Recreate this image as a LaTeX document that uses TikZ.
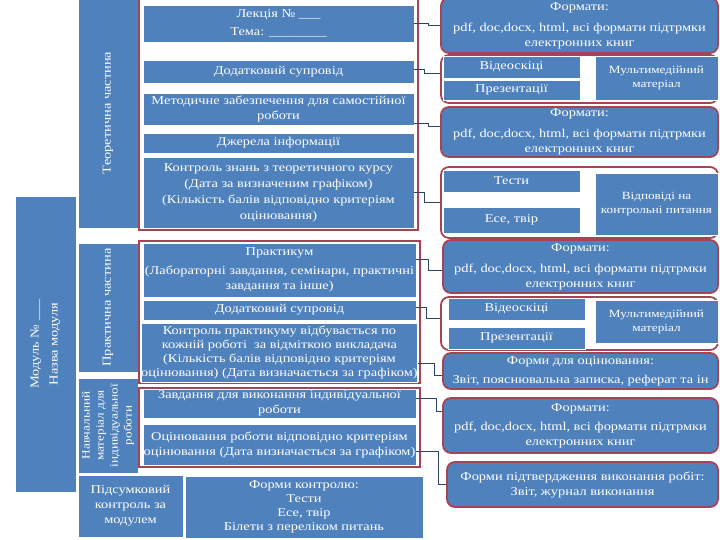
\documentclass[tikz,border=0pt]{standalone}
\usepackage{fontspec}
\setmainfont{Liberation Serif}[FakeStretch=1.2]
\usetikzlibrary{positioning,calc}

\definecolor{boxblue}{RGB}{79,129,189}
\definecolor{frameRed}{RGB}{165,68,84}
\definecolor{lineDark}{RGB}{45,68,98}

\begin{document}
\begin{tikzpicture}[x=1pt,y=-1pt]

        % blue blocks, red frames and the thin elbow connectors
        \tikzset{
            blk/.style={fill=boxblue, draw=white, line width=0.8pt, text=white,
                align=center, inner sep=0pt,
                font=\fontsize{12}{15}\selectfont},
            sblk/.style={blk, font=\fontsize{11}{14}\selectfont},
            rblk/.style={blk, draw=frameRed, line width=1.8pt, rounded corners=8pt},
            grp/.style={fill=white, draw=frameRed, line width=1.8pt, rounded corners=8pt,
                inner sep=0pt},
            frm/.style={draw=frameRed, line width=1.6pt, fill=white},
            conn/.style={draw=lineDark, line width=0.6pt}
        }

        \useasboundingbox (0,0) rectangle (720,540);

        % Left column
        \begin{scope}
            \node[blk, rotate=90, minimum width=296, minimum height=61] (mod) at (45.5,344)
            {Модуль № \_\_\_\\[4pt]Назва модуля};
            \node[blk, rotate=90, minimum width=230, minimum height=60] (teor) at (108,113)
            {Теоретична частина};
            \node[blk, rotate=90, minimum width=129, minimum height=60] (prak) at (108,307.5)
            {Практична частина};
            \node[blk, rotate=90, minimum width=95, minimum height=60,
                font=\fontsize{11}{14}\selectfont] (navch) at (108,425.5)
            {Навчальний\\матеріал для\\індивідуальної\\роботи};
            \node[blk, minimum width=105, minimum height=62] (pidsum) at (130.5,506)
            {Підсумковий\\контроль за\\модулем};
            \node[blk, minimum width=238, minimum height=62,
                font=\fontsize{12}{14}\selectfont] (formy) at (304,507)
            {Форми контролю:\\Тести\\Есе, твір\\Білети з переліком питань};
        \end{scope}

        % Middle column
        \draw[frm] (139,-2) rectangle (418,230);
        \draw[frm] (139,241) rectangle (420,383);
        \draw[frm] (139,388) rectangle (420,467);
        \begin{scope}[every node/.append style={minimum width=271}]
            \node[blk, minimum height=37] (lek) at (278.5,23.5)
            {Лекція № \_\_\_\\[3pt]Тема: \_\_\_\_\_\_\_\_};
            \node[blk, minimum height=23] (dod1) at (278.5,71.5)
            {Додатковий супровід};
            \node[blk, minimum height=32] (metod) at (278.5,109)
            {Методичне забезпечення для самостійної\\роботи};
            \node[blk, minimum height=20] (dzher) at (278.5,143)
            {Джерела інформації};
            \node[blk, minimum height=71, font=\fontsize{12}{16}\selectfont] (kontr) at (278.5,192.5)
            {Контроль знань з теоретичного курсу\\(Дата за визначеним графіком)\\
             (Кількість балів відповідно критеріям\\оцінювання)};
        \end{scope}
        \begin{scope}[every node/.append style={minimum width=273}]
            \node[blk, minimum height=54] (prakt) at (279.5,270)
            {Практикум\\[4pt](Лабораторні завдання, семінари, практичні\\завдання та інше)};
            \node[blk, minimum height=20] (dod2) at (279.5,310)
            {Додатковий супровід};
            \node[blk, minimum height=59, font=\fontsize{12}{14.2}\selectfont] (kprakt) at (279.5,352.5)
            {Контроль практикуму відбувається по\\кожній роботі \ за відміткою викладача\\
             (Кількість балів відповідно критеріям\\оцінювання) (Дата визначається за графіком)};
            \node[blk, minimum height=29] (zavd) at (279.5,403.5)
            {Завдання для виконання індивідуальної\\роботи};
            \node[blk, minimum height=41] (ocin) at (279.5,444.5)
            {Оцінювання роботи відповідно критеріям\\оцінювання (Дата визначається за графіком)};
        \end{scope}

        % Right column
        \node[rblk, minimum width=277, minimum height=55] (f1) at (579.5,25.5)
        {Формати:\\[6pt]pdf, doc,docx, html, всі формати підтрмки\\електронних книг};
        \node[grp, minimum width=277, minimum height=48] (g2) at (579.5,79) {};
        \node[blk, minimum width=137, minimum height=22] (vid1) at (511.5,67) {Відеоскіці};
        \node[blk, minimum width=137, minimum height=20] (prez1) at (511.5,90) {Презентації};
        \node[sblk, minimum width=123, minimum height=44] (mult1) at (656.5,78)
        {Мультимедійний\\матеріал};
        \node[rblk, minimum width=277, minimum height=50] (f2) at (579.5,132)
        {Формати:\\[6pt]pdf, doc,docx, html, всі формати підтрмки\\електронних книг};
        \node[grp, minimum width=277, minimum height=71] (g4) at (579.5,202.5) {};
        \node[blk, minimum width=137, minimum height=22] (test) at (511.5,181) {Тести};
        \node[blk, minimum width=137, minimum height=26] (ese) at (511.5,220) {Есе, твір};
        \node[sblk, minimum width=123, minimum height=62] (vidp) at (656.5,204)
        {Відповіді на\\контрольні питання};
        \node[rblk, minimum width=275, minimum height=53] (f3) at (580.5,266.5)
        {Формати:\\[6pt]pdf, doc,docx, html, всі формати підтрмки\\електронних книг};
        \node[grp, minimum width=277, minimum height=53] (g6) at (579.5,323.5) {};
        \node[blk, minimum width=137, minimum height=22] (vid2) at (516.5,309) {Відеоскіці};
        \node[blk, minimum width=137, minimum height=22] (prez2) at (516.5,338) {Презентації};
        \node[sblk, minimum width=123, minimum height=43] (mult2) at (656.5,321.5)
        {Мультимедійний\\матеріал};
        \node[rblk, minimum width=275, minimum height=36] (fo) at (580.5,371)
        {Форми для оцінювання:\\[4pt]Звіт, пояснювальна записка, реферат та ін};
        \node[rblk, minimum width=275, minimum height=55] (f4) at (580.5,425.5)
        {Формати:\\[4pt]pdf, doc,docx, html, всі формати підтрмки\\електронних книг};
        \node[rblk, minimum width=271, minimum height=45] (fp) at (582.5,484.5)
        {Форми підтвердження виконання робіт:\\Звіт, журнал виконання};

        % Connectors
        \begin{scope}[conn]
            \draw (lek.east) -- ++(14,0) |- (f1.west);
            \draw ($(dod1.east)+(0,-2.5)$) -- ++(10,0) |- ($(g2.west)+(0,-6)$);
            \draw ($(metod.east)+(0,14)$) -- ++(14,0) |- ($(f2.west)+(0,-6)$);
            \draw (kontr.east) -- ++(10,0) |- (g4.west);
            \draw ($(prakt.east)+(0,-11)$) -- ++(12,0) |- ($(f3.west)+(0,3.5)$);
            \draw ($(dod2.east)+(0,-3)$) -- ++(10,0) |- ($(g6.west)+(0,-5.5)$);
            \draw ($(kprakt.east)+(0,10.5)$) -- ++(16,0) |- ($(fo.west)+(0,4)$);
            \draw ($(zavd.east)+(0,-5.5)$) -- ++(20,0) |- ($(f4.west)+(0,-14.5)$);
            \draw ($(ocin.east)+(0,6.5)$) -- ++(22,0) |- (fp.west);
        \end{scope}

\end{tikzpicture}
\end{document}
